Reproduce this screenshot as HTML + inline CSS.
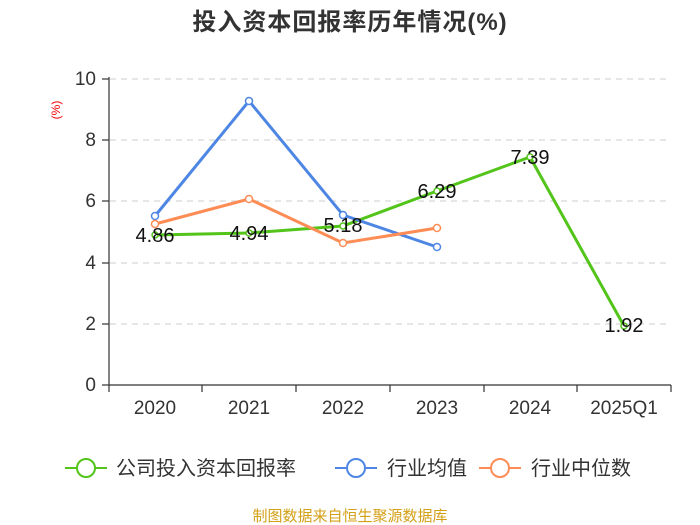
<!DOCTYPE html>
<html><head><meta charset="utf-8"><style>body{margin:0;background:#fff}svg{display:block;font-family:"Liberation Sans","Noto Sans CJK SC",sans-serif}</style></head><body>
<svg width="700" height="525" viewBox="0 0 700 525">
<text x="350" y="30" text-anchor="middle" font-size="24" font-weight="bold" fill="#333" letter-spacing="1">投入资本回报率历年情况(%)</text>
<text x="60" y="110" font-size="12" fill="#e00" text-anchor="middle" transform="rotate(-90 60 110)">(%)</text>
<g stroke="#ccc" stroke-dasharray="6,5" stroke-width="1">
<line x1="110" x2="671" y1="79" y2="79"/><line x1="110" x2="671" y1="140" y2="140"/><line x1="110" x2="671" y1="201" y2="201"/><line x1="110" x2="671" y1="263" y2="263"/><line x1="110" x2="671" y1="324" y2="324"/></g>
<g stroke="#333" stroke-width="1.2"><line x1="109" y1="77" x2="109" y2="385"/><line x1="109" y1="385" x2="671" y2="385"/>
<line x1="102" x2="109" y1="79" y2="79"/><line x1="102" x2="109" y1="140" y2="140"/><line x1="102" x2="109" y1="201" y2="201"/><line x1="102" x2="109" y1="263" y2="263"/><line x1="102" x2="109" y1="324" y2="324"/><line x1="102" x2="109" y1="385" y2="385"/>
<line x1="109" x2="109" y1="385" y2="392"/><line x1="202" x2="202" y1="385" y2="392"/><line x1="296" x2="296" y1="385" y2="392"/><line x1="390" x2="390" y1="385" y2="392"/><line x1="484" x2="484" y1="385" y2="392"/><line x1="577" x2="577" y1="385" y2="392"/><line x1="671" x2="671" y1="385" y2="392"/></g>
<g font-size="19" fill="#333" text-anchor="end"><text x="96" y="85">10</text><text x="96" y="146">8</text><text x="96" y="207">6</text><text x="96" y="269">4</text><text x="96" y="330">2</text><text x="96" y="391">0</text></g>
<g font-size="19" fill="#333" text-anchor="middle"><text x="155" y="414">2020</text><text x="249" y="414">2021</text><text x="343" y="414">2022</text><text x="437" y="414">2023</text><text x="530" y="414">2024</text><text x="624" y="414">2025Q1</text></g>
<polyline fill="none" stroke="#52c41a" stroke-width="3" points="155,235 249,233 343,226 437,191 530,157 624,326"/>
<polyline fill="none" stroke="#4e86e4" stroke-width="3" points="155,216 249,101 343,215 437,247"/>
<polyline fill="none" stroke="#fd8c55" stroke-width="3" points="155,224 249,199 343,243 437,228"/>
<g fill="#fff" stroke-width="1.5">
<g stroke="#52c41a"><circle cx="155" cy="235" r="3"/><circle cx="249" cy="233" r="3"/><circle cx="343" cy="226" r="3"/><circle cx="437" cy="191" r="3"/><circle cx="530" cy="157" r="3"/><circle cx="624" cy="326" r="3"/></g>
<g stroke="#4e86e4"><circle cx="155" cy="216" r="3.5"/><circle cx="249" cy="101" r="3.5"/><circle cx="343" cy="215" r="3.5"/><circle cx="437" cy="247" r="3.5"/></g>
<g stroke="#fd8c55"><circle cx="155" cy="224" r="3.5"/><circle cx="249" cy="199" r="3.5"/><circle cx="343" cy="243" r="3.5"/><circle cx="437" cy="228" r="3.5"/></g></g>
<g font-size="20" fill="#111" text-anchor="middle"><text x="155" y="242">4.86</text><text x="249" y="240">4.94</text><text x="343" y="232">5.18</text><text x="437" y="198">6.29</text><text x="530" y="164">7.39</text><text x="624" y="332">1.92</text></g>
<g stroke-width="2" fill="#fff">
<line x1="65" x2="107" y1="468" y2="468" stroke="#52c41a"/><circle cx="86" cy="468" r="9" stroke="#52c41a"/>
<line x1="335" x2="377" y1="468" y2="468" stroke="#4e86e4"/><circle cx="356" cy="468" r="9" stroke="#4e86e4"/>
<line x1="479" x2="521" y1="468" y2="468" stroke="#fd8c55"/><circle cx="500" cy="468" r="9" stroke="#fd8c55"/></g>
<g font-size="20" fill="#333"><text x="116" y="475">公司投入资本回报率</text><text x="387" y="475">行业均值</text><text x="531" y="475">行业中位数</text></g>
<text x="350" y="521" text-anchor="middle" font-size="15" fill="#d4a017">制图数据来自恒生聚源数据库</text>
</svg></body></html>
